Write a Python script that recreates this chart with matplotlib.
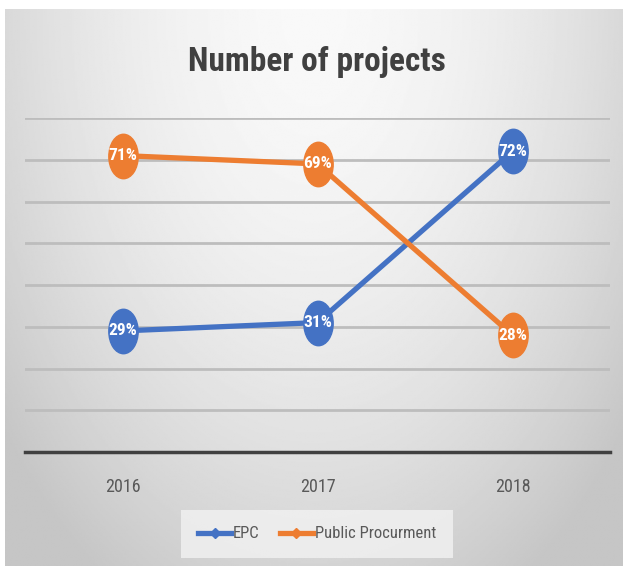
import numpy as np
import matplotlib.pyplot as plt
from matplotlib import font_manager
from matplotlib.path import Path
from matplotlib.transforms import Affine2D
from matplotlib.lines import Line2D

years = ['2016', '2017', '2018']
epc = [29, 31, 72]
public = [71, 69, 28]
series_names = ['EPC', 'Public Procurment']
colors = ['#4472C4', '#ED7D31']

# pick a narrow font if one is installed (chart uses a condensed Calibri-like face)
names = {f.name for f in font_manager.fontManager.ttflist}
narrow = [n for n in ['Liberation Sans Narrow', 'Roboto Condensed', 'Open Sans Condensed',
                      'DejaVu Sans Condensed', 'Noto Sans Condensed'] if n in names]
cond_files = [f for f in font_manager.fontManager.ttflist
              if f.stretch in ('condensed', 'semi-condensed', 'extra-condensed', 400, 300)
              or 'ondensed' in f.fname or 'Narrow' in f.fname]
stretch = 'normal'
if narrow:
    family = [narrow[0], 'DejaVu Sans']
elif cond_files:
    family = [cond_files[0].name, 'DejaVu Sans']
    stretch = 'condensed'
else:
    family = ['DejaVu Sans']
plt.rcParams['font.family'] = family
plt.rcParams['font.stretch'] = stretch

fig = plt.figure(figsize=(6.23, 5.66), dpi=100)

# gradient background of the chart area
bg = fig.add_axes([5/623, 0, 618/623, 557/566])
gx, gy = np.meshgrid(np.linspace(-1, 1, 400), np.linspace(0, 1, 400))
r = np.sqrt((gx / 1.3)**2 + (gy / 1.2)**2)
shade = 0.975 - 0.2 * np.clip(r, 0, 1)**1.8
bg.imshow(shade, cmap='gray', vmin=0, vmax=1, aspect='auto',
          extent=[0, 1, 0, 1], origin='upper')
bg.axis('off')

ax = fig.add_axes([25/623, 1-452/566, 585/623, 334/566])
ax.patch.set_alpha(0)
x = np.arange(len(years))

ell = Path.unit_circle().transformed(Affine2D().scale(0.66, 1.0))

for vals, c in zip([epc, public], colors):
    ax.plot(x, vals, color=c, lw=3.8, marker=ell, markersize=32,
            markerfacecolor=c, markeredgecolor=c, zorder=3)
    for xi, v in zip(x, vals):
        ax.text(xi, v, f'{v}%', color='white', fontsize=12.5, fontweight='bold',
                ha='center', va='center', zorder=4)

ax.set_xlim(-0.5, 2.5)
ax.set_ylim(0, 80)
ax.set_yticks(np.arange(10, 81, 10))
ax.yaxis.grid(True, color='#bdbdbd', lw=2)
ax.set_axisbelow(True)
ax.tick_params(left=False, labelleft=False, bottom=False)
for s in ['top', 'right', 'left']:
    ax.spines[s].set_visible(False)
ax.spines['bottom'].set_color('#404040')
ax.spines['bottom'].set_linewidth(2.5)
ax.set_xticks(x)
ax.set_xticklabels(years, fontsize=13, color='#595959')
ax.tick_params(axis='x', pad=15)

fig.text(317/623, 1-62/566, 'Number of projects', ha='center', va='center',
         fontsize=24, fontweight='bold', color='#404040')

handles = [Line2D([], [], color=c, lw=3.8, marker='D', markersize=5)
           for c in colors]
leg = fig.legend(handles, series_names, loc='center', bbox_to_anchor=(317/623, 1-534/566),
                 ncol=2, frameon=True, fontsize=12, handlelength=2.0, handletextpad=0.1,
                 columnspacing=1.2, borderpad=0.7)
leg.get_frame().set_facecolor('#f2f2f2')
leg.get_frame().set_edgecolor('none')
leg.get_frame().set_alpha(0.8)
leg.get_frame().set_boxstyle('square')
for t in leg.get_texts():
    t.set_color('#595959')

fig.savefig('out.png', dpi=100)
